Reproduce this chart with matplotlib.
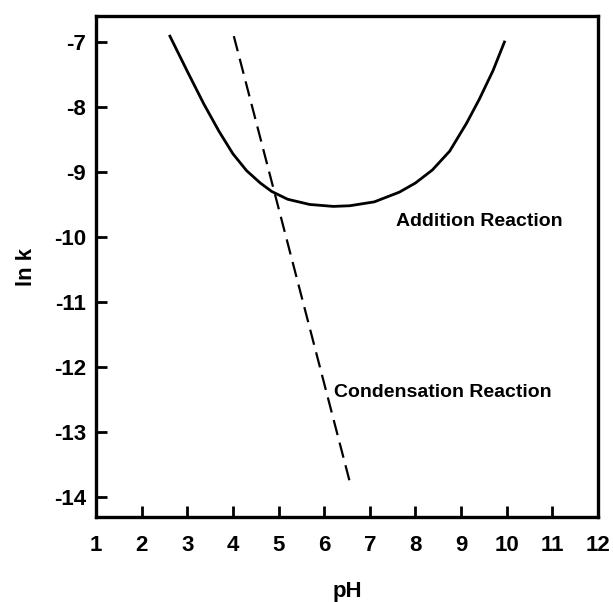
import matplotlib
matplotlib.use("Agg")
import matplotlib.pyplot as plt

# ln k vs pH for the two reactions

add_ph = [2.62, 3.0, 3.36, 3.7, 4.0, 4.3, 4.6, 4.85, 5.2, 5.68, 6.2, 6.56, 7.1,
          7.65, 8.0, 8.37, 8.75, 9.12, 9.4, 9.7, 9.95]
add_lnk = [-6.91, -7.45, -7.95, -8.38, -8.72, -8.98, -9.17, -9.3, -9.42, -9.5, -9.53, -9.52, -9.46,
           -9.31, -9.17, -8.97, -8.68, -8.25, -7.88, -7.44, -7.0]

cond_ph = [4.02, 6.58]
cond_lnk = [-6.91, -13.82]

xticks = [1, 2, 3, 4, 5, 6, 7, 8, 9, 10, 11, 12]
yticks = [-7, -8, -9, -10, -11, -12, -13, -14]

plt.rcParams["font.family"] = ["Liberation Sans", "DejaVu Sans"]
plt.rcParams["font.weight"] = "bold"
plt.rcParams["axes.unicode_minus"] = False

fig = plt.figure(figsize=(6.13, 6.02), dpi=100)
ax = fig.add_axes([0.1566, 0.1412, 0.8189, 0.8322])

ax.plot(add_ph, add_lnk, color="black", lw=2.0)
ax.plot(cond_ph, cond_lnk, color="black", lw=1.6, dashes=(7, 3.5))

ax.text(9.4, -9.76, "Addition Reaction", fontsize=14, fontweight="bold", ha="center", va="center")
ax.text(6.22, -12.4, "Condensation Reaction", fontsize=14, fontweight="bold", ha="left", va="center")

ax.set_xlim(1, 12)
ax.set_ylim(-14.31, -6.6)
ax.set_xticks(xticks)
ax.set_yticks(yticks)
ax.tick_params(direction="in", length=8, width=2, labelsize=16)
ax.tick_params(axis="x", pad=13)
ax.tick_params(axis="y", pad=7)
for s in ax.spines.values():
    s.set_linewidth(2.4)

ax.set_xlabel("pH", fontsize=16, fontweight="bold", labelpad=18)
ax.set_ylabel("ln k", fontsize=16, fontweight="bold", labelpad=12)

fig.savefig("out.png", dpi=100)
